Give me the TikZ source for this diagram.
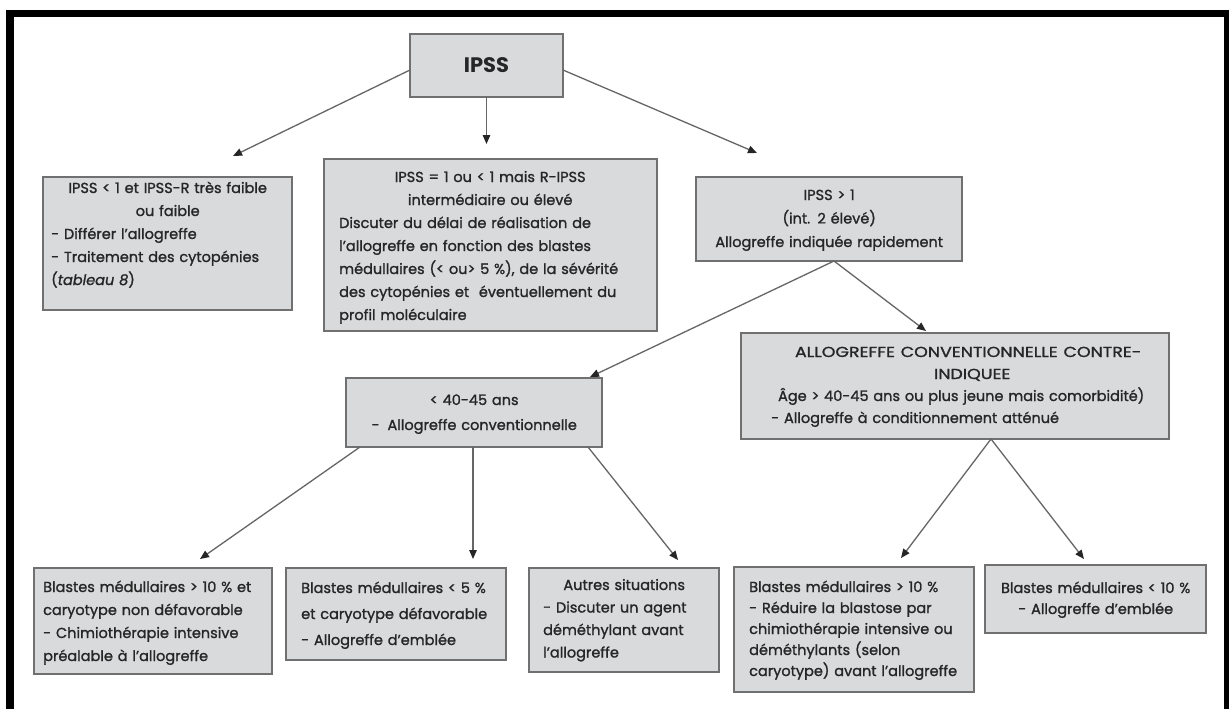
\documentclass[tikz,border=0pt]{standalone}
\usepackage{fontspec}
\setmainfont{Poppins}[UprightFeatures={FakeBold=1.3}, ItalicFeatures={FakeBold=1.3}]
\usetikzlibrary{arrows.meta}
\definecolor{boxfill}{HTML}{D8DADC}
\definecolor{boxline}{HTML}{707070}
\definecolor{conn}{HTML}{666666}
\definecolor{ink}{HTML}{262626}
\newcommand\cln[1]{\leavevmode\hbox to\hsize{\hfil#1\hfil}}
\begin{document}
\begin{tikzpicture}[x=1pt,y=-1pt,
  box/.style={draw=boxline, fill=boxfill, line width=1.5pt, anchor=north west, inner sep=0pt, outer sep=0pt},
  txt/.style={anchor=base west, inner sep=0pt, text=ink, align=left, font=\fontsize{14.5}{23}\selectfont},
  arr/.style={draw=conn, line width=1.3pt, -{Triangle[length=9pt,width=7.5pt,color=black!85]}},
]
\useasboundingbox (0,0) rectangle (1229,709);
\fill[white] (0,0) rectangle (1229,709);
% frame
\fill[black] (6,10) rectangle (1229,17);
\fill[black] (6,10) rectangle (14,709);
\fill[black] (1224,10) rectangle (1229,709);

% boxes
\node[box, minimum width=153pt, minimum height=63pt] (ipss) at (410,34) {};
\node[anchor=center, text=ink, font=\fontsize{21}{24}\selectfont\bfseries, inner sep=0pt] (ipsst) at (ipss.center) {IPSS};

\node[box, minimum width=249pt, minimum height=133pt] (A) at (43,177) {};
\node[txt, text width=233pt] (At) at (51,193) {\cln{IPSS < 1 et IPSS-R très faible}\\\cln{ou faible}\\- Différer l’allogreffe\\- Traitement des cytopénies\\(\textit{tableau 8})};

\node[box, minimum width=333pt, minimum height=172pt] (B) at (324,159) {};
\node[txt, text width=302pt] (Bt) at (339,182) {\cln{IPSS = 1 ou < 1 mais R-IPSS}\\\cln{intermédiaire ou élevé}\\Discuter du délai de réalisation de\\l’allogreffe en fonction des blastes\\médullaires (< ou> 5 \%), de la sévérité\\des cytopénies et~ éventuellement du\\profil moléculaire};

\node[box, minimum width=266pt, minimum height=84pt] (C) at (696,177) {};
\node[txt, text width=250pt, align=center, font=\fontsize{14.5}{23.5}\selectfont] (Ct) at (704,200) {IPSS > 1\\(int. 2 élevé)\\Allogreffe indiquée rapidement};

\node[box, minimum width=256pt, minimum height=69pt] (D) at (346,378) {};
\node[txt, text width=240pt, align=center, font=\fontsize{14.5}{25}\selectfont] (Dt) at (354,405) {< 40-45 ans\\-\hspace{8pt}Allogreffe conventionnelle};

\node[box, minimum width=428pt, minimum height=106pt] (E) at (741,333) {};
\node[txt, text width=380pt, font=\fontsize{14.5}{22}\selectfont] (Et) at (771,357) {\cln{\hspace{14pt}\scalebox{1.2}[1]{ALLOGREFFE CONVENTIONNELLE CONTRE-}}\\\cln{\hspace{22pt}\scalebox{1.2}[1]{INDIQUEE}}\\\cln{Âge > 40-45 ans ou plus jeune mais comorbidité)}\\- Allogreffe à conditionnement atténué};

\node[box, minimum width=238pt, minimum height=106pt] (F) at (34,568) {};
\node[txt, text width=225pt] (Ft) at (43,592) {Blastes médullaires > 10 \% et\\caryotype non défavorable\\- Chimiothérapie intensive\\préalable à l’allogreffe};

\node[box, minimum width=220pt, minimum height=92pt] (G) at (286,568) {};
\node[txt, text width=200pt, font=\fontsize{14.5}{26}\selectfont] (Gt) at (301,593) {Blastes médullaires < 5 \%\\et caryotype défavorable\\- Allogreffe d’emblée};

\node[box, minimum width=190pt, minimum height=104pt] (H) at (529,568) {};
\node[txt, text width=162pt, font=\fontsize{14.5}{22.5}\selectfont] (Ht) at (543,590) {\cln{Autres situations}\\- Discuter un agent\\déméthylant avant\\l’allogreffe};

\node[box, minimum width=240pt, minimum height=125pt] (I) at (734,567) {};
\node[txt, text width=220pt, font=\fontsize{14.5}{21}\selectfont] (It) at (749,592) {Blastes médullaires > 10 \%\\- Réduire la blastose par\\chimiothérapie intensive ou\\déméthylants (selon\\caryotype) avant l’allogreffe};

\node[box, minimum width=221pt, minimum height=68pt] (J) at (985,565) {};
\node[txt, text width=205pt, align=center, font=\fontsize{14.5}{21}\selectfont] (Jt) at (993,593) {Blastes médullaires < 10 \%\\- Allogreffe d’emblée};

% arrow tips
\coordinate (tA) at (233,156);
\coordinate (tB) at (486.5,144);
\coordinate (tC) at (757,153);
\coordinate (tD) at (590,377);
\coordinate (tE) at (926,331);
\coordinate (tF) at (200,559);
\coordinate (tG) at (473,559);
\coordinate (tH) at (678,560);
\coordinate (tI) at (901,558);
\coordinate (tJ) at (1084,559);

\draw[arr] ([yshift=-4.5pt]ipss.west) -- (tA);
\draw[arr] (ipss.south) -- (tB);
\draw[arr] ([yshift=-4.5pt]ipss.east) -- (tC);
\draw[arr] ([xshift=5pt]C.south) -- (tD);
\draw[arr] ([xshift=5pt]C.south) -- (tE);
\draw[arr] ([xshift=14pt]D.south west) -- (tF);
\draw[arr] ([xshift=127pt]D.south west) -- (tG);
\draw[arr] ([xshift=-14pt]D.south east) -- (tH);
\draw[arr] ([xshift=36pt]E.south) -- (tI);
\draw[arr] ([xshift=36pt]E.south) -- (tJ);
\end{tikzpicture}
\end{document}
